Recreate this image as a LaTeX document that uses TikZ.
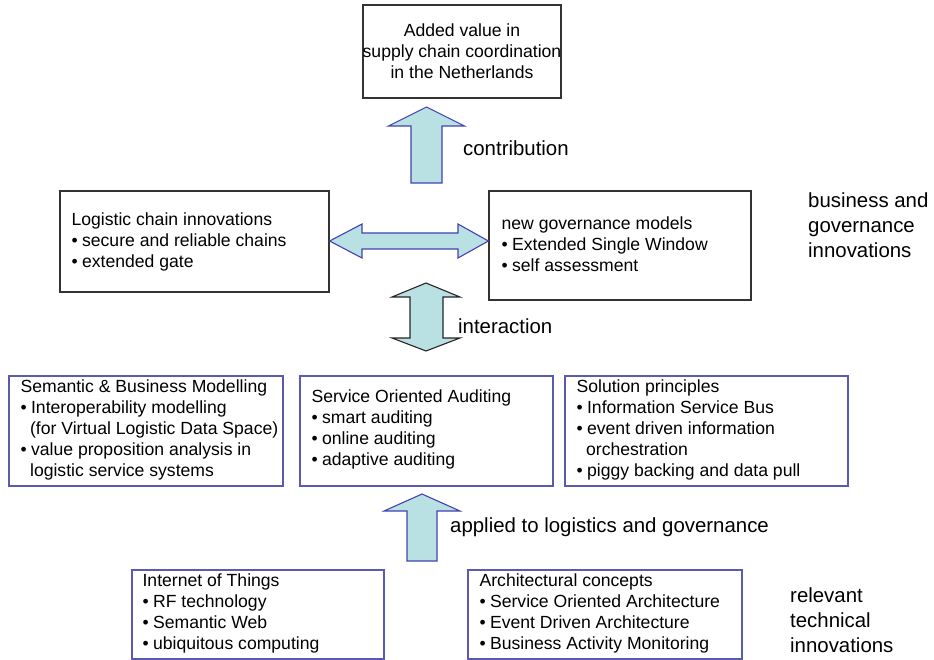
\documentclass[tikz,border=0pt]{standalone}
\usepackage{fontspec}
\setmainfont{Liberation Sans}
\definecolor{arrfill}{HTML}{B9E0E3}
\definecolor{arrline}{HTML}{4242B0}
\definecolor{boxblue}{HTML}{5A5AAE}
\definecolor{boxgray}{HTML}{333333}
\newcommand\bul{\makebox[10.5pt][l]{•}}
\newcommand\cont{\hspace*{9.5pt}}
\begin{document}
\begin{tikzpicture}[x=1pt,y=-1pt,
  gbox/.style={draw=boxgray,line width=1.2pt,rectangle,inner sep=0pt},
  bbox/.style={draw=boxblue,line width=1.2pt,rectangle,inner sep=0pt},
  boxtxt/.style={inner sep=0pt,align=left,anchor=west,font=\fontsize{17.6}{21}\selectfont},
  lbl/.style={inner sep=0pt,align=left,anchor=west,font=\fontsize{20.4}{25}\selectfont},
  blockarr/.style={fill=arrfill,draw=arrline,line width=1.1pt,line join=miter},
  blockarrk/.style={fill=arrfill,draw=black!85,line width=1.1pt,line join=miter}]
\useasboundingbox (0,0) rectangle (934,660);

% boxes
\node[gbox,minimum width=198pt,minimum height=93pt] (top) at (462,51.5) {};
\node[inner sep=0pt,align=center,font=\fontsize{17.6}{21}\selectfont] at (top.center)
  {Added value in\\supply chain coordination\\in the Netherlands};

\node[gbox,minimum width=269pt,minimum height=101pt] (left) at (194.5,241.5) {};
\node[boxtxt] at ([xshift=12pt]left.west)
  {Logistic chain innovations\\\bul secure and reliable chains\\\bul extended gate};

\node[gbox,minimum width=262pt,minimum height=109pt] (right) at (620,245.5) {};
\node[boxtxt] at ([xshift=13pt,yshift=1pt]right.west)
  {new governance models\\\bul Extended Single Window\\\bul self assessment};

\node[bbox,minimum width=274pt,minimum height=110pt] (sem) at (146,431) {};
\node[boxtxt] at ([xshift=12pt,yshift=1pt]sem.west)
  {Semantic \& Business Modelling\\\bul Interoperability modelling\\\cont(for Virtual Logistic Data Space)\\\bul value proposition analysis in\\\cont logistic service systems};

\node[bbox,minimum width=253pt,minimum height=110pt] (soa) at (426.5,431) {};
\node[boxtxt] at ([xshift=12pt,yshift=1.5pt]soa.west)
  {Service Oriented Auditing\\\bul smart auditing\\\bul online auditing\\\bul adaptive auditing};

\node[bbox,minimum width=283pt,minimum height=110pt] (sol) at (706.5,431) {};
\node[boxtxt] at ([xshift=12pt,yshift=1pt]sol.west)
  {Solution principles\\\bul Information Service Bus\\\bul event driven information\\\cont orchestration\\\bul piggy backing and data pull};

\node[bbox,minimum width=252pt,minimum height=89pt] (iot) at (258,614.5) {};
\node[boxtxt] at ([xshift=11pt,yshift=1pt]iot.west)
  {Internet of Things\\\bul RF technology\\\bul Semantic Web\\\bul ubiquitous computing};

\node[bbox,minimum width=274pt,minimum height=89pt] (arch) at (605,614.5) {};
\node[boxtxt] at ([xshift=12pt,yshift=1pt]arch.west)
  {Architectural concepts\\\bul Service Oriented Architecture\\\bul Event Driven Architecture\\\bul Business Activity Monitoring};

% block arrows
% contribution (up)
\coordinate (c1) at (426.5,107);
\draw[blockarr] (c1) -- (464.5,126) -- (442,126) -- (442,183) -- (411,183) -- (411,126) -- (388.5,126) -- cycle;
% horizontal double
\draw[blockarr] (left.east |- 0,241) -- (362,224) -- (362,233) -- (458,233) -- (458,224) -- (right.west |- 0,241)
  -- (458,258) -- (458,249) -- (362,249) -- (362,258) -- cycle;
% interaction (vertical double)
\draw[blockarrk] (426,283) -- (460,297) -- (443,297) -- (443,338) -- (460,338) -- (426,351)
  -- (392,338) -- (410,338) -- (410,297) -- (392,297) -- cycle;
% applied (up)
\draw[blockarr] (422,494) -- (460,511) -- (437,511) -- (437,561) -- (407,561) -- (407,511) -- (384,511) -- cycle;

% labels
\node[lbl] (lcon) at (463,148) {contribution};
\node[lbl] (lint) at (458,326) {interaction};
\node[lbl] (lapp) at (450,527) {applied to logistics and governance};
\node[lbl] (lbus) at (808,225) {business and\\governance\\innovations};
\node[lbl] (lrel) at (790,620) {relevant\\technical\\innovations};
\end{tikzpicture}
\end{document}
